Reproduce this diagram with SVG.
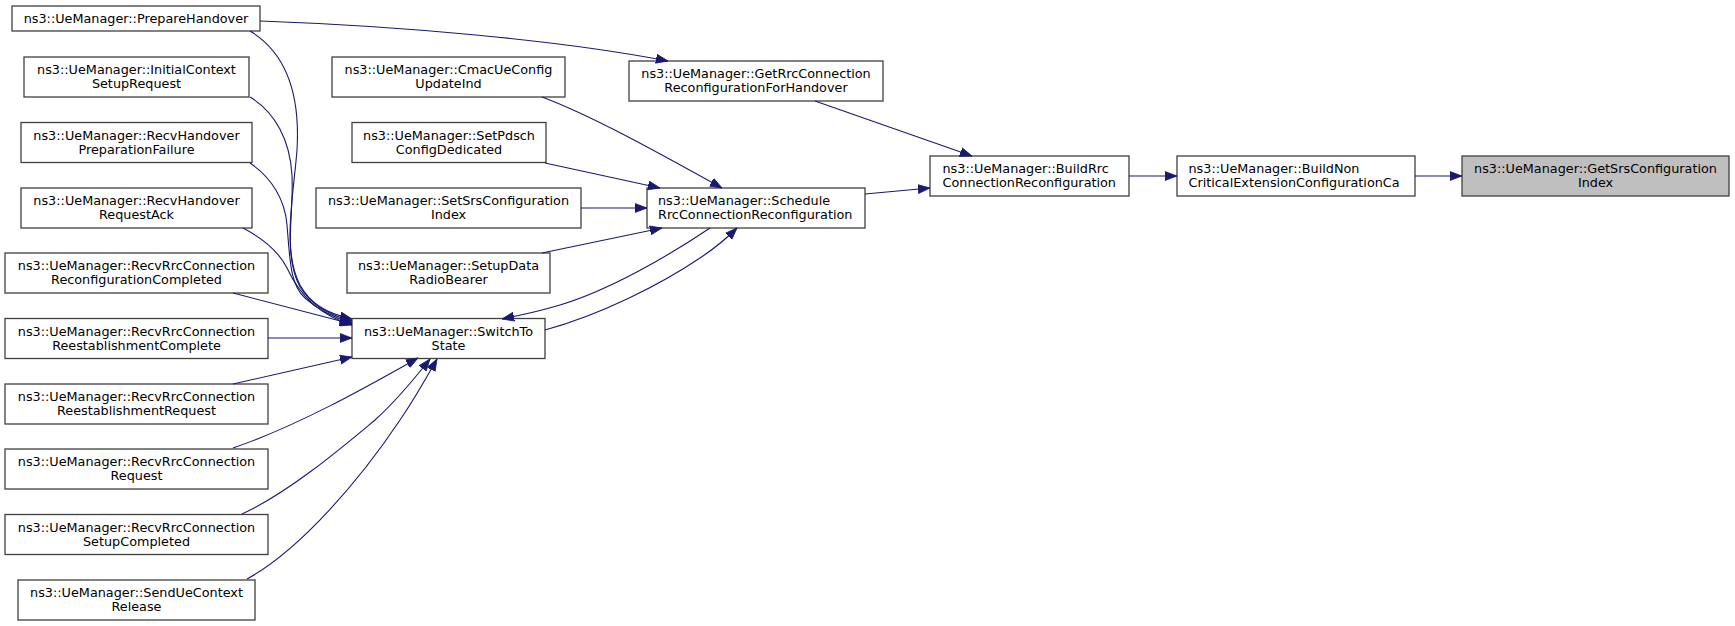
<svg xmlns="http://www.w3.org/2000/svg" width="1735" height="626" viewBox="0 0 1735 626">
<defs>
<style>
.n rect{fill:#ffffff;stroke:#404040;stroke-width:1.3}
.n.root rect{fill:#bfbfbf}
.n text{font-family:"DejaVu Sans","Liberation Sans",sans-serif;font-size:12.8px;fill:#000000;text-anchor:middle}
.n text.l{text-anchor:start}
.e path{fill:none;stroke:#191970;stroke-width:1.1;marker-end:url(#ah)}
</style>
<marker id="ah" markerUnits="userSpaceOnUse" markerWidth="12" markerHeight="10" viewBox="0 0 12 10" refX="12" refY="5" orient="auto">
<path d="M0,0.5 L12,5 L0,9.5 z" fill="#191970" stroke="#191970" stroke-width="0.8"/>
</marker>
</defs>
<rect width="1735" height="626" fill="#ffffff"/>
<g id="n_PrepareHandover" class="n"><rect x="12" y="6" width="248" height="25"/><text x="136" y="23">ns3::UeManager::PrepareHandover</text></g>
<g id="n_InitialContextSetupRequest" class="n"><rect x="24" y="57" width="225" height="40"/><text x="136.5" y="74">ns3::UeManager::InitialContext</text><text x="136.5" y="88">SetupRequest</text></g>
<g id="n_RecvHandoverPreparationFailure" class="n"><rect x="21" y="122.5" width="231" height="40"/><text x="136.5" y="139.5">ns3::UeManager::RecvHandover</text><text x="136.5" y="153.5">PreparationFailure</text></g>
<g id="n_RecvHandoverRequestAck" class="n"><rect x="21" y="188" width="231" height="40"/><text x="136.5" y="205">ns3::UeManager::RecvHandover</text><text x="136.5" y="219">RequestAck</text></g>
<g id="n_RecvRrcConnectionReconfigurationCompleted" class="n"><rect x="5" y="253" width="263" height="40"/><text x="136.5" y="270">ns3::UeManager::RecvRrcConnection</text><text x="136.5" y="284">ReconfigurationCompleted</text></g>
<g id="n_RecvRrcConnectionReestablishmentComplete" class="n"><rect x="5" y="318.5" width="263" height="40"/><text x="136.5" y="335.5">ns3::UeManager::RecvRrcConnection</text><text x="136.5" y="349.5">ReestablishmentComplete</text></g>
<g id="n_RecvRrcConnectionReestablishmentRequest" class="n"><rect x="5" y="384" width="263" height="40"/><text x="136.5" y="401">ns3::UeManager::RecvRrcConnection</text><text x="136.5" y="415">ReestablishmentRequest</text></g>
<g id="n_RecvRrcConnectionRequest" class="n"><rect x="5" y="449" width="263" height="40"/><text x="136.5" y="466">ns3::UeManager::RecvRrcConnection</text><text x="136.5" y="480">Request</text></g>
<g id="n_RecvRrcConnectionSetupCompleted" class="n"><rect x="5" y="514.5" width="263" height="40"/><text x="136.5" y="531.5">ns3::UeManager::RecvRrcConnection</text><text x="136.5" y="545.5">SetupCompleted</text></g>
<g id="n_SendUeContextRelease" class="n"><rect x="18" y="580" width="237" height="40"/><text x="136.5" y="597">ns3::UeManager::SendUeContext</text><text x="136.5" y="611">Release</text></g>
<g id="n_CmacUeConfigUpdateInd" class="n"><rect x="332" y="57" width="233" height="40"/><text x="448.5" y="74">ns3::UeManager::CmacUeConfig</text><text x="448.5" y="88">UpdateInd</text></g>
<g id="n_SetPdschConfigDedicated" class="n"><rect x="352" y="122.5" width="194" height="40"/><text x="449" y="139.5">ns3::UeManager::SetPdsch</text><text x="449" y="153.5">ConfigDedicated</text></g>
<g id="n_SetSrsConfigurationIndex" class="n"><rect x="316" y="188" width="265" height="40"/><text x="448.5" y="205">ns3::UeManager::SetSrsConfiguration</text><text x="448.5" y="219">Index</text></g>
<g id="n_SetupDataRadioBearer" class="n"><rect x="347" y="253" width="203" height="40"/><text x="448.5" y="270">ns3::UeManager::SetupData</text><text x="448.5" y="284">RadioBearer</text></g>
<g id="n_SwitchToState" class="n"><rect x="352" y="318.5" width="193" height="40"/><text x="448.5" y="335.5">ns3::UeManager::SwitchTo</text><text x="448.5" y="349.5">State</text></g>
<g id="n_GetRrcConnectionReconfigurationForHandover" class="n"><rect x="629" y="61" width="254" height="40"/><text x="756" y="78">ns3::UeManager::GetRrcConnection</text><text x="756" y="92">ReconfigurationForHandover</text></g>
<g id="n_ScheduleRrcConnectionReconfiguration" class="n"><rect x="647" y="188" width="218" height="40"/><text class="l" x="658" y="204.5">ns3::UeManager::Schedule</text><text class="l" x="658" y="218.5">RrcConnectionReconfiguration</text></g>
<g id="n_BuildRrcConnectionReconfiguration" class="n"><rect x="930" y="156" width="199" height="40"/><text class="l" x="942.5" y="172.5">ns3::UeManager::BuildRrc</text><text class="l" x="942.5" y="186.5">ConnectionReconfiguration</text></g>
<g id="n_BuildNonCriticalExtensionConfigurationCa" class="n"><rect x="1177" y="156" width="238" height="40"/><text class="l" x="1188.5" y="172.5">ns3::UeManager::BuildNon</text><text class="l" x="1188.5" y="186.5">CriticalExtensionConfigurationCa</text></g>
<g id="n_GetSrsConfigurationIndex" class="n root"><rect x="1462" y="156" width="267" height="40"/><text x="1595.5" y="172.5">ns3::UeManager::GetSrsConfiguration</text><text x="1595.5" y="186.5">Index</text></g>
<g id="connectors" class="e">
<path d="M260,21 C400,26 560,40 668,61"/>
<path d="M250,31 C290,55 300,100 297,150 C293,200 282,250 300,285 C310,303 325,313 352,319"/>
<path d="M250,97 C275,112 290,140 292,175 C294,215 283,255 300,287 C311,304 326,314 352,321"/>
<path d="M250,163 C272,178 285,200 287,225 C290,260 290,285 305,298 C318,310 332,317 352,323"/>
<path d="M243,228 C262,238 278,250 287,268 C297,290 315,314 352,325"/>
<path d="M233,293 L352,324"/>
<path d="M268,338 L352,338"/>
<path d="M233,384 L352,357"/>
<path d="M233,448 C300,425 370,385 418,358"/>
<path d="M242,514 C290,492 345,445 375,420 C395,402 415,378 430,359"/>
<path d="M247,579 C300,550 360,480 400,420 C415,398 428,375 437,359"/>
<path d="M542,97 C590,115 650,148 722,188"/>
<path d="M545,163 L660,188"/>
<path d="M581,208 L647,208"/>
<path d="M542,253 L662,228"/>
<path d="M710,228 C670,255 610,290 560,305 C540,311 522,315 502,319"/>
<path d="M545,330 C600,315 660,285 700,258 C715,248 727,238 737,228"/>
<path d="M815,101 L972,156"/>
<path d="M865,194 L930,188"/>
<path d="M1129,176 L1177,176"/>
<path d="M1415,176 L1462,176"/>
</g>
</svg>
